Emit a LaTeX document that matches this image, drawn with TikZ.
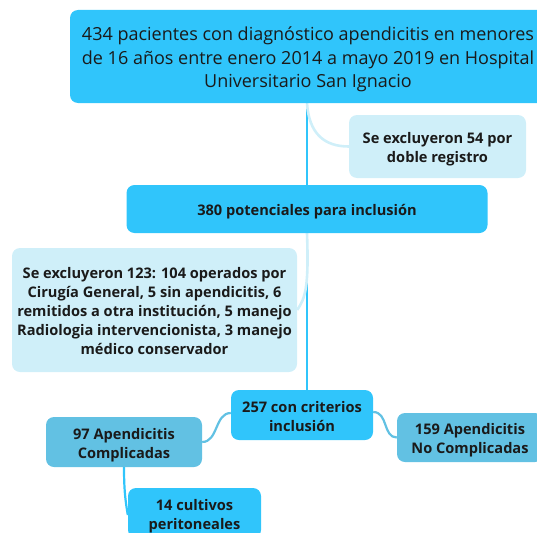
\documentclass[tikz,border=0pt]{standalone}
\usepackage{fontspec}
\setmainfont{Open Sans}
\usetikzlibrary{calc,backgrounds}
\definecolor{cyanb}{HTML}{30C5FB}
\definecolor{lightb}{HTML}{CFEFF9}
\definecolor{medb}{HTML}{62C1E3}
\definecolor{txt}{HTML}{1A1A1A}
\newcommand\bxt[2][-3pt]{\raisebox{#1}[\height][\depth]{\begin{tabular}{@{}c@{}}#2\end{tabular}}}
\tikzset{
  x=1pt,y=-1pt,
  box/.style={rounded corners=8pt, inner sep=0pt, text=txt, font=\bfseries\fontsize{14.6}{19}\selectfont},
  cyanbox/.style={box, fill=cyanb},
  lightbox/.style={box, fill=lightb},
  medbox/.style={box, fill=medb},
  cyanline/.style={draw=cyanb, line width=2.2pt},
  lightline/.style={draw=lightb, line width=2.6pt},
  medline/.style={draw=medb, line width=2.2pt},
}
\begin{document}
\begin{tikzpicture}
\useasboundingbox (0,0) rectangle (537,532);
\node[cyanbox, minimum width=476pt, minimum height=93pt, font=\mdseries\fontsize{18}{23.5}\selectfont] (top) at (308,56.5)
 {\bxt{434 pacientes con diagnóstico apendicitis en menores\\de 16 años entre enero 2014 a mayo 2019 en Hospital\\Universitario San Ignacio}};
\node[lightbox, minimum width=177pt, minimum height=63pt] (ex54) at (437.5,146.5) {\bxt{Se excluyeron 54 por\\doble registro}};
\node[cyanbox, minimum width=361pt, minimum height=48pt] (p380) at (307,209) {\bxt{380 potenciales para inclusión}};
\node[lightbox, minimum width=285pt, minimum height=124pt] (ex123) at (154.5,310)
 {\bxt{Se excluyeron 123: 104 operados por\\Cirugía General, 5 sin apendicitis, 6\\remitidos a otra institución, 5 manejo\\Radiologia intervencionista, 3 manejo\\médico conservador}};
\node[cyanbox, minimum width=142pt, minimum height=50pt] (c257) at (302,415) {\bxt{257 con criterios\\inclusión}};
\node[medbox, minimum width=156pt, minimum height=50pt] (c97) at (124,442) {\bxt{97 Apendicitis\\Complicadas}};
\node[medbox, minimum width=146pt, minimum height=49pt] (c159) at (470,437.5) {\bxt{159 Apendicitis\\No Complicadas}};
\node[cyanbox, minimum width=133pt, minimum height=50pt] (c14) at (194.5,513) {\bxt{14 cultivos\\peritoneales}};
\begin{scope}[on background layer]
\draw[cyanline] (top.south -| p380.north) -- (p380.north |- c257.north);
\draw[lightline] (top.south -| p380.north) .. controls ($(top.south -| p380.north)+(2,30)$) and ($(ex54.west)+(-25,0)$) .. (ex54.west);
\draw[lightline] (p380.south) .. controls ($(p380.south)+(2,55)$) and ($(ex123.east)+(8,-12)$) .. (ex123.east);
\draw[medline] ($(c257.west)+(0,-2)$) .. controls ($(c257.west)+(-16,-2)$) and ($(c97.east)+(16,0)$) .. (c97.east);
\draw[medline] ($(c257.east)+(0,-3)$) .. controls ($(c257.east)+(15,-3)$) and ($(c159.west)+(-14,0)$) .. (c159.west);
\draw[cyanline] (c97.south) .. controls ($(c97.south)+(0,25)$) and ($(c14.west)+(-2,-10)$) .. ($(c14.west)+(0,2)$);
\end{scope}
\end{tikzpicture}
\end{document}
